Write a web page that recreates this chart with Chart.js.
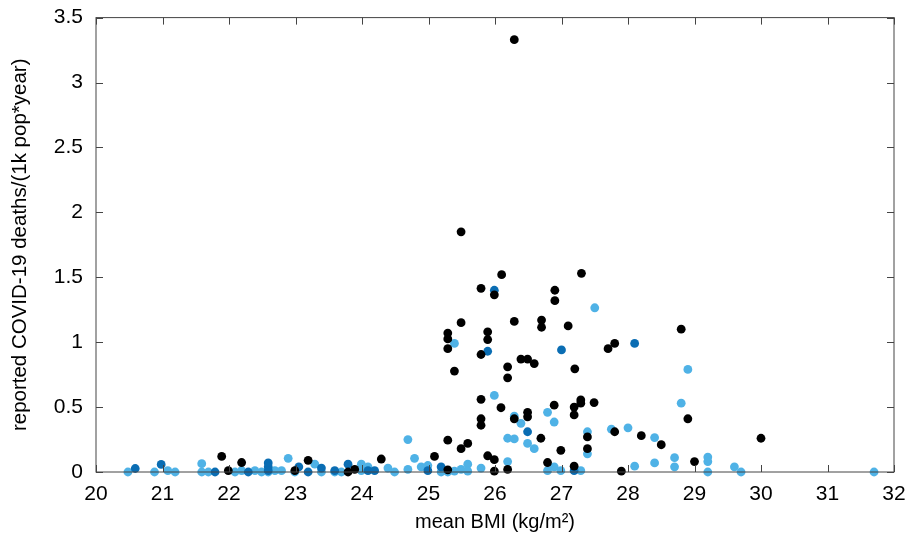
<!DOCTYPE html>
<html lang="en">
<head>
    <meta charset="UTF-8">
    <title>COVID-19 deaths vs mean BMI</title>
    <script src="https://cdn.jsdelivr.net/npm/chart.js"></script>
    <style>
        body { margin: 0; background: #fff; }
        canvas { display: block; }
    </style>
</head>
<body>
    <canvas id="bmiChart" width="911" height="536"></canvas>
    <script>
        // axis ticks
        const xTicks = [20, 21, 22, 23, 24, 25, 26, 27, 28, 29, 30, 31, 32];
        const yTicks = [0, 0.5, 1, 1.5, 2, 2.5, 3, 3.5];

        // black points
        const blackX = [26.29, 25.49, 26.10, 27.30, 25.79, 25.99, 26.90, 26.90, 25.49, 26.29,
            26.70, 26.70, 27.10, 25.29, 25.29, 25.29, 25.89, 25.89, 25.79, 28.80,
            27.70, 27.80, 26.39, 26.49, 26.59, 26.19, 26.19, 25.39, 27.20, 25.79,
            27.29, 27.29, 27.49, 26.89, 27.19, 27.19, 26.09, 26.49, 26.49, 26.29,
            25.79, 25.79, 28.90, 27.80, 27.39, 26.69, 28.20, 30.00, 25.29, 25.59,
            28.50, 25.49, 27.39, 26.99, 25.89, 25.99, 26.79, 27.19, 29.00, 25.99,
            26.19, 27.90, 25.29, 25.09, 24.29, 23.89, 23.79, 23.19, 22.99, 22.19,
            21.99, 21.89];
        const blackY = [3.33, 1.85, 1.52, 1.53, 1.415, 1.365, 1.40, 1.32, 1.15, 1.16,
            1.17, 1.115, 1.125, 1.07, 1.025, 0.95, 1.08, 1.02, 0.905, 1.10,
            0.95, 0.99, 0.87, 0.87, 0.835, 0.81, 0.725, 0.777, 0.795, 0.56,
            0.555, 0.53, 0.535, 0.515, 0.50, 0.44, 0.495, 0.46, 0.425, 0.41,
            0.41, 0.36, 0.41, 0.31, 0.27, 0.26, 0.28, 0.26, 0.245, 0.22,
            0.21, 0.18, 0.18, 0.167, 0.125, 0.095, 0.073, 0.045, 0.08, 0.006,
            0.02, 0.006, 0.017, 0.12, 0.10, 0.02, 0.0, 0.09, 0.01, 0.073,
            0.01, 0.12];

        // dark blue points
        const darkX = [25.99, 25.89, 27.00, 28.10, 26.49, 27.19, 20.59, 20.98, 21.79, 22.29,
            22.59, 22.59, 22.59, 23.39, 23.05, 23.59, 23.79, 24.09, 24.19, 25.19,
            24.99, 23.19];
        const darkY = [1.40, 0.93, 0.94, 0.99, 0.31, 0.01, 0.027, 0.058, 0.0, 0.0,
            0.07, 0.04, 0.01, 0.03, 0.04, 0.01, 0.06, 0.01, 0.01, 0.04,
            0.01, 0.0];

        // light blue points
        const lightX = [27.50, 25.39, 28.90, 25.99, 28.80, 26.79, 26.29, 26.89, 26.39, 28.00,
            27.75, 27.39, 28.40, 26.19, 26.29, 24.69, 26.49, 26.59, 27.39, 28.70,
            29.20, 24.79, 22.89, 26.19, 29.20, 28.40, 21.59, 23.29, 23.99, 25.59,
            24.99, 28.10, 28.70, 29.60, 26.89, 24.89, 24.09, 25.79, 24.39, 24.69,
            25.49, 25.39, 25.59, 26.79, 26.99, 27.29, 29.20, 29.70, 31.70, 20.48,
            20.88, 21.08, 21.19, 21.59, 21.69, 22.09, 22.19, 22.39, 22.59, 22.69,
            22.79, 22.99, 23.39, 23.59, 23.69, 23.99, 24.49, 25.19, 25.29, 22.49];
        const lightY = [1.265, 0.99, 0.79, 0.59, 0.53, 0.46, 0.43, 0.385, 0.375, 0.34,
            0.33, 0.31, 0.265, 0.26, 0.255, 0.25, 0.22, 0.18, 0.14, 0.11,
            0.115, 0.105, 0.105, 0.08, 0.08, 0.07, 0.064, 0.06, 0.06, 0.06,
            0.05, 0.045, 0.04, 0.04, 0.04, 0.04, 0.04, 0.03, 0.03, 0.02,
            0.02, 0.006, 0.006, 0.01, 0.01, 0.01, 0.0, 0.0, 0.0, 0.0,
            0.0, 0.01, 0.0, 0.0, 0.0, 0.0, 0.01, 0.01, 0.0, 0.01,
            0.01, 0.0, 0.0, 0.0, 0.0, 0.01, 0.0, 0.0, 0.0, 0.0];

        const toPoints = (xs, ys) => xs.map((x, i) => ({ x: x, y: ys[i] }));

        const fontFamily = "'Liberation Sans', Arial, Helvetica, sans-serif";

        // gnuplot-like frame with inward ticks on all four sides
        const framePlugin = {
            id: 'frame',
            afterDraw(chart) {
                const ctx = chart.ctx;
                const a = chart.chartArea;
                const len = 7;
                ctx.save();
                ctx.strokeStyle = '#444';
                ctx.lineWidth = 1;
                ctx.strokeRect(a.left, a.top, a.right - a.left, a.bottom - a.top);
                ctx.beginPath();
                xTicks.forEach(v => {
                    const px = Math.round(chart.scales.x.getPixelForValue(v)) + 0.5;
                    ctx.moveTo(px, a.bottom); ctx.lineTo(px, a.bottom - len);
                    ctx.moveTo(px, a.top); ctx.lineTo(px, a.top + len);
                });
                yTicks.forEach(v => {
                    const py = Math.round(chart.scales.y.getPixelForValue(v)) + 0.5;
                    ctx.moveTo(a.left, py); ctx.lineTo(a.left + len, py);
                    ctx.moveTo(a.right, py); ctx.lineTo(a.right - len, py);
                });
                ctx.stroke();
                ctx.restore();
            }
        };

        const dot = (color) => ({
            backgroundColor: color,
            borderWidth: 0,
            pointRadius: 4.4,
            pointHoverRadius: 4.4,
            clip: false
        });

        new Chart(document.getElementById('bmiChart').getContext('2d'), {
            type: 'scatter',
            data: {
                // dataset 0 is painted last (on top), so black comes first
                datasets: [
                    Object.assign({ label: 'black', data: toPoints(blackX, blackY) }, dot('#000000')),
                    Object.assign({ label: 'dark blue', data: toPoints(darkX, darkY) }, dot('#0a6db3')),
                    Object.assign({ label: 'light blue', data: toPoints(lightX, lightY) }, dot('#4fb2e6'))
                ]
            },
            options: {
                responsive: false,
                animation: false,
                layout: { padding: { top: 17, right: 17, left: 0, bottom: 0 } },
                plugins: { legend: { display: false }, tooltip: { enabled: false } },
                scales: {
                    x: {
                        type: 'linear',
                        min: 20,
                        max: 32,
                        afterFit: s => { s.height = 64; },
                        afterBuildTicks: s => { s.ticks = xTicks.map(v => ({ value: v })); },
                        grid: { display: false },
                        border: { display: false },
                        ticks: { color: '#000', padding: 2, font: { family: fontFamily, size: 21 } },
                        title: {
                            display: true,
                            text: 'mean BMI (kg/m²)',
                            color: '#000',
                            padding: { top: 0, bottom: 2 },
                            font: { family: fontFamily, size: 20 }
                        }
                    },
                    y: {
                        type: 'linear',
                        min: 0,
                        max: 3.5,
                        afterFit: s => { s.width = 96; },
                        afterBuildTicks: s => { s.ticks = yTicks.map(v => ({ value: v })); },
                        grid: { display: false },
                        border: { display: false },
                        ticks: {
                            color: '#000',
                            padding: 5,
                            font: { family: fontFamily, size: 21 },
                            callback: v => String(v)
                        },
                        title: {
                            display: true,
                            text: 'reported COVID-19 deaths/(1k pop*year)',
                            color: '#000',
                            padding: { top: 8, bottom: 0 },
                            font: { family: fontFamily, size: 20.5 }
                        }
                    }
                }
            },
            plugins: [framePlugin]
        });
    </script>
</body>
</html>
